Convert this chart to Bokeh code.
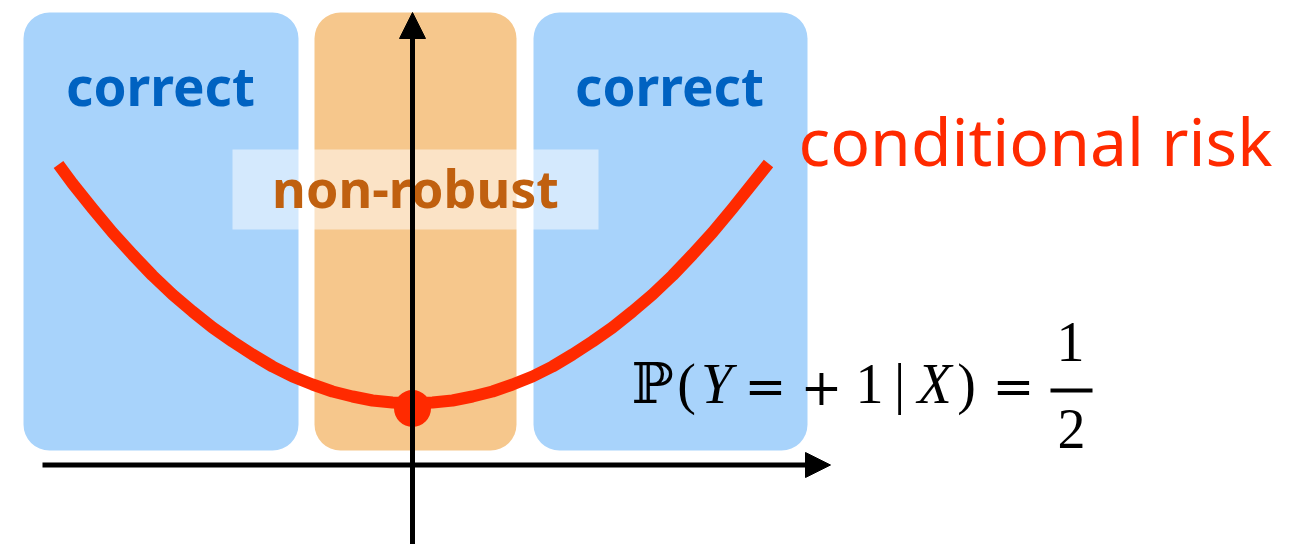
from bokeh.plotting import figure
from bokeh.models import Range1d, Arrow, NormalHead
from bokeh.core.properties import value
from bokeh.embed import file_html
from bokeh.resources import INLINE

# ---- data (units: arbitrary, origin at axes crossing) ----
region_labels = ["correct", "non-robust", "correct"]
region_left = [-389, -98, 121]
region_right = [-114, 104, 395]
region_bottom = [15, 15, 15]
region_top = [453, 453, 453]

risk_x = [-354, -340, -320, -300, -280, -260, -240, -220, -200, -180, -160, -140, -120, -100, -80, -60, -40, -20,
          0, 20, 40, 60, 80, 100, 120, 140, 160, 180, 200, 220, 240, 260, 280, 300, 320, 340, 356]
risk_y = [301, 282, 257, 233, 211, 190, 171, 154, 138, 124, 111, 99, 89, 81, 74, 69, 65, 63,
          62, 63, 65, 69, 74, 81, 89, 99, 111, 124, 138, 154, 171, 190, 211, 233, 257, 282, 302]

min_x = [0]
min_y = [57]

label_x = [-252, 3, 257]
label_y = [380, 278, 380]

curve_label = "conditional risk"
formula_parts = ["ℙ", "(", "Y", "=", "+", "1", "|", "X", ")", "="]
formula_x = [240, 274, 304, 353, 409, 457, 487, 522, 554, 601]
formula_style = ["normal", "normal", "italic", "normal", "normal", "normal", "normal", "italic", "normal", "normal"]
frac_num, frac_den = "1", "2"

# ---- figure ----
p = figure(width=1292, height=544, x_range=Range1d(-412, 880), y_range=Range1d(-79, 465),
           output_backend="svg", toolbar_location=None, min_border=0)
p.axis.visible = False
p.grid.visible = False
p.outline_line_color = None
p.background_fill_color = "white"
p.border_fill_color = "white"

blue = "#A8D3FB"
orange = "#F6C78C"
p.quad(left=region_left, right=region_right, bottom=region_bottom, top=region_top,
       fill_color=[blue, orange, blue], line_color=None, border_radius=26)

# axes
p.add_layout(Arrow(end=NormalHead(size=26, fill_color="black", line_color="black", line_width=1),
                   x_start=0, y_start=-100, x_end=0, y_end=453, line_width=5, line_color="black"))
p.add_layout(Arrow(end=NormalHead(size=25, fill_color="black", line_color="black", line_width=1),
                   x_start=-370, y_start=0.5, x_end=418, y_end=0.5, line_width=5, line_color="black"))

# translucent box behind "non-robust"
p.quad(left=[-180], right=[186], bottom=[236], top=[316], fill_color="white", fill_alpha=0.5, line_color=None)

# region labels
p.text(x=[label_x[0], label_x[2]], y=[label_y[0], label_y[2]], text=[region_labels[0], region_labels[2]],
       text_font=value("Noto Sans"), text_font_style="bold", text_font_size="53px",
       text_color="#0062C1", text_align="center", text_baseline="alphabetic")
p.text(x=[label_x[1]], y=[label_y[1]], text=[region_labels[1]],
       text_font=value("Noto Sans"), text_font_style="bold", text_font_size="52px",
       text_color="#C0600F", text_align="center", text_baseline="alphabetic")

# curve
p.line(risk_x, risk_y, line_width=12, line_color="#FF2A00", line_cap="butt", line_join="round")
p.scatter(min_x, min_y, size=37, fill_color="#FF2A00", line_color=None)

p.text(x=[386], y=[326], text=[curve_label], text_font=value("Noto Sans"), text_font_size="66px",
       text_color="#FF2A00", text_align="left", text_baseline="alphabetic")

# formula
for s, xx, st in zip(formula_parts, formula_x, formula_style):
    if s in ("=", "+"):
        font, size, yy = "DejaVu Serif", "50px", 79
    elif s == "ℙ":
        font, size, yy = "DejaVu Serif", "56px", 82
    else:
        font, size, yy = "Liberation Serif", "56px", 82
    p.text(x=[xx], y=[yy], text=[s], text_font=value(font),
           text_font_style=st, text_font_size=size, text_color="black",
           text_align="center", text_baseline="alphabetic")
p.segment(x0=[638], y0=[75], x1=[680], y1=[75], line_width=4, line_color="black")
p.text(x=[658, 659], y=[124, 37], text=[frac_num, frac_den], text_font=value("Liberation Serif"),
       text_font_size="56px", text_color="black", text_align="center", text_baseline="alphabetic")

open("out.html", "w").write(file_html(p, INLINE))
